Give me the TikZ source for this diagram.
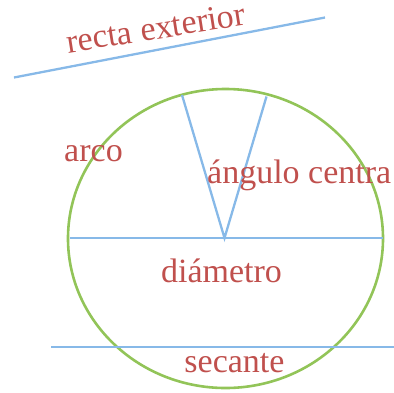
\documentclass[tikz,border=0pt]{standalone}
\usepackage{fontspec}
\setmainfont{Liberation Serif}
\usepackage{tikz}

\definecolor{rotulo}{RGB}{192,80,77}
\definecolor{recta}{RGB}{135,185,232}
\definecolor{borde}{RGB}{146,196,88}

\begin{document}
\begin{tikzpicture}[x=1pt, y=-1pt,
		linea/.style={draw=recta, line width=2.3pt},
		etiqueta/.style={text=rotulo, font=\fontsize{34}{34}\selectfont, inner sep=0pt, anchor=base}]
	\useasboundingbox (0, 0) rectangle (394, 392);
	\path (225.5, 238.5) coordinate (c)
		(14, 77.5) coordinate (e1)
		(325, 17.5) coordinate (e2)
		(70, 238) coordinate (d1)
		(383, 238) coordinate (d2)
		(224.5, 238) coordinate (v)
		(182, 95) coordinate (a1)
		(266.5, 96.5) coordinate (a2)
		(51, 347) coordinate (s1)
		(394, 347) coordinate (s2);
	
	\draw[draw=borde, line width=2.6pt] (c) ellipse [x radius=157.5, y radius=149.5];
	\draw[linea] (e1) -- (e2);
	\draw[linea] (d1) -- (d2);
	\draw[linea] (a1) -- (v) -- (a2);
	\draw[linea] (s1) -- (s2);
	
	\path (157.5, 39) node[etiqueta, rotate=9] (nrecta) {recta exterior}
		(93.5, 161) node[etiqueta] (narco) {arco}
		(207, 183) node[etiqueta, anchor=base west] (nangulo) {ángulo centra}
		(221.5, 282) node[etiqueta] (ndiametro) {diámetro}
		(234.5, 372) node[etiqueta] (nsecante) {secante};
\end{tikzpicture}
\end{document}
